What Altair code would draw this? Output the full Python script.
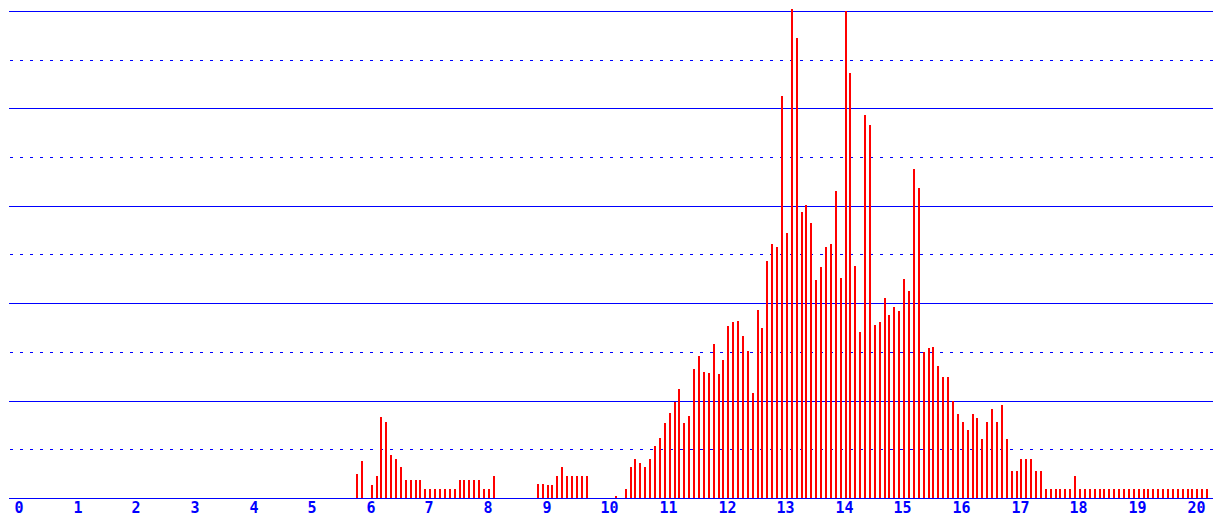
import altair as alt
import pandas as pd

# bar heights (one bar every 1/12 unit, starting at x = 70/12)
start_index = 70
heights = [
    4.9, 7.5, 0, 2.7, 4.5, 16.7, 15.7, 8.9, 8.1, 6.3,
    3.7, 3.7, 3.7, 3.7, 1.9, 1.9, 1.9, 1.9, 1.9, 1.9,
    1.9, 3.7, 3.7, 3.7, 3.7, 3.7, 1.9, 1.9, 4.5, 0,
    0, 0, 0, 0, 0, 0, 0, 2.9, 2.9, 2.7,
    2.7, 4.5, 6.3, 4.5, 4.5, 4.5, 4.5, 4.5, 0, 0,
    0, 0, 0, 0.5, 0, 1.9, 6.3, 8.1, 7.1, 6.3,
    8.1, 10.7, 12.3, 15.3, 17.5, 19.7, 22.3, 15.3, 16.9, 26.5,
    29.1, 25.9, 25.7, 31.7, 25.5, 28.3, 35.3, 36.1, 36.3, 33.3,
    30.1, 21.5, 38.5, 34.9, 48.7, 52.1, 51.5, 82.5, 54.5, 100.3,
    94.5, 58.7, 60.1, 56.5, 44.7, 47.5, 51.5, 52.1, 63.1, 45.1,
    100.0, 87.3, 47.7, 34.1, 78.7, 76.5, 35.5, 36.1, 41.1, 37.5,
    39.3, 38.3, 44.9, 42.5, 67.5, 63.7, 29.9, 30.7, 30.9, 27.1,
    24.9, 24.9, 19.9, 17.3, 15.7, 13.9, 17.3, 16.5, 12.1, 15.7,
    18.3, 15.7, 19.1, 12.1, 5.5, 5.5, 8.1, 8.1, 8.1, 5.5,
    5.5, 1.9, 1.9, 1.9, 1.9, 1.9, 1.9, 4.5, 1.9, 1.9,
    1.9, 1.9, 1.9, 1.9, 1.9, 1.9, 1.9, 1.9, 1.9, 1.9,
    1.9, 1.9, 1.9, 1.9, 1.9, 1.9, 1.9, 1.9, 1.9, 1.9,
    1.9, 1.9, 1.9, 1.9, 1.9,
]
tick_values = list(range(0, 21))
solid_levels = [0, 20, 40, 60, 80, 100]
dashed_levels = [10, 30, 50, 70, 90]

x_max = 1222 / 60
y_max = 100.6

bars = pd.DataFrame({
    "x": [(start_index + i) / 12 for i in range(len(heights))],
    "h": heights,
})
bars = bars[bars["h"] > 0]

xscale = alt.Scale(domain=[0, x_max], nice=False, zero=False, round=True)
yscale = alt.Scale(domain=[0, y_max], nice=False, round=True)

solid = alt.Chart(pd.DataFrame({"y": solid_levels})).mark_rule(
    color="#0000ff", strokeWidth=1, yOffset=0.5
).encode(y=alt.Y("y:Q", scale=yscale, axis=None))

dashed = alt.Chart(pd.DataFrame({"y": dashed_levels})).mark_rule(
    color="#0000ff", strokeWidth=1, strokeDash=[3, 7], yOffset=0.5
).encode(y=alt.Y("y:Q", scale=yscale, axis=None))

bar_layer = alt.Chart(bars).mark_bar(
    color="#ff0000", size=2, xOffset=1
).encode(
    x=alt.X(
        "x:Q",
        scale=xscale,
        axis=alt.Axis(
            values=tick_values,
            title=None,
            ticks=False,
            domain=False,
            grid=False,
            labelAlign="left",
            labelColor="#0000ff",
            labelFont="DejaVu Sans Mono",
            labelFontWeight="bold",
            labelFontSize=15,
            labelPadding=2,
            labelOverlap=False,
            labelBound=False,
            labelFlush=False,
            format="d",
        ),
    ),
    y=alt.Y("h:Q", scale=yscale, axis=None),
)

chart = (
    alt.layer(solid, dashed, bar_layer)
    .properties(
        width=1206,
        height=507,
        autosize=alt.AutoSizeParams(type="fit", contains="padding"),
        padding=0,
        background="white",
    )
    .configure_view(strokeWidth=0)
)

chart.save("out.html", embed_options={"renderer": "svg", "actions": False})
